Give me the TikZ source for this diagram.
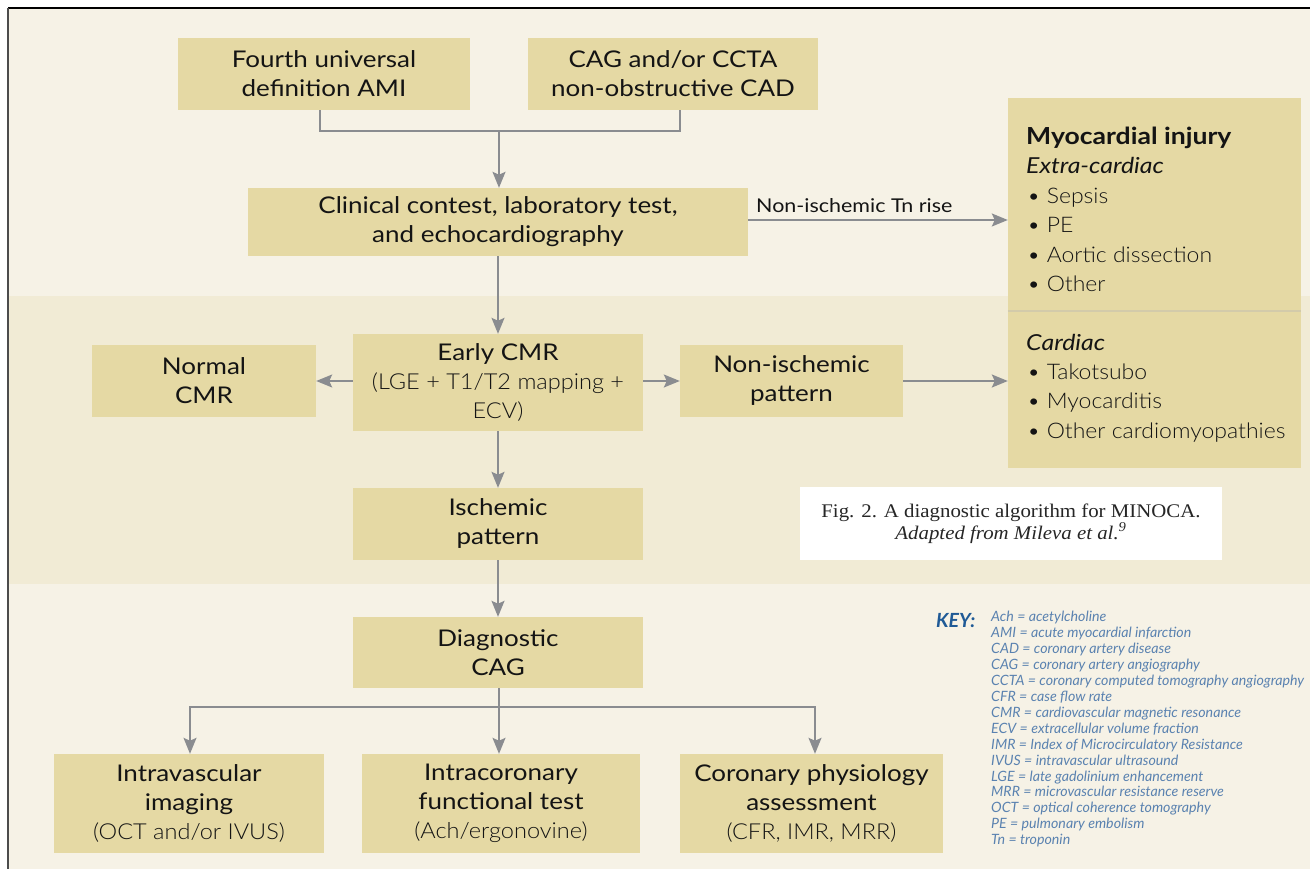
\documentclass[tikz,border=0pt]{standalone}
\usepackage{fontspec}
\setmainfont{Lato}[FakeStretch=1.13]
\newfontfamily\lightfont{Lato Light}[FakeStretch=1.07]
\newfontfamily\keyfont{Lato}
\newfontfamily\capfont{Liberation Serif}[FakeStretch=1.08]
\usetikzlibrary{arrows.meta,calc}
\definecolor{bgc}{HTML}{F6F2E6}
\definecolor{bandc}{HTML}{F1EBD5}
\definecolor{boxc}{HTML}{E5D9A4}
\definecolor{arrc}{HTML}{8A8C90}
\definecolor{keyb}{HTML}{1F5A96}
\definecolor{keyt}{HTML}{5A82B0}
\definecolor{divc}{HTML}{D3CBAA}
\newcommand{\subtxt}[1]{{\fontsize{22}{29}\lightfont #1}}
\begin{document}
\begin{tikzpicture}[x=1pt,y=-1pt,
 box/.style={fill=boxc, draw=none, align=center, inner sep=0pt, text=black!92,
   font=\fontsize{23}{29}\selectfont},
 arr/.style={draw=arrc, line width=1.8pt, -{Stealth[length=16pt,width=13pt,inset=3pt]}},
 ln/.style={draw=arrc, line width=1.8pt},
 rtxt/.style={anchor=base west, inner sep=0pt, text=black!92, font=\fontsize{22}{26}\selectfont},
 keytxt/.style={anchor=base west, inner sep=0pt, text=keyt, font=\fontsize{14.2}{16}\keyfont\itshape},
]
\useasboundingbox (0,0) rectangle (1310,869);
\fill[white] (0,0) rectangle (1310,869);
\fill[bgc] (8,8) rectangle (1310,869);
\fill[bandc] (8,296) rectangle (1310,584);
\draw[black, line width=1.5pt] (8,8) -- (1310,8);
\draw[black!70, line width=2pt] (8,8) -- (8,869);

% boxes
\node[box, minimum width=292pt, minimum height=72pt] (A) at (324,74) {Fourth universal\\definition AMI};
\node[box, minimum width=290pt, minimum height=72pt] (B) at (673,74) {CAG and/or CCTA\\non-obstructive CAD};
\node[box, minimum width=500pt, minimum height=68pt] (C) at (498,222) {Clinical contest, laboratory test,\\and echocardiography};
\node[box, minimum width=224pt, minimum height=72pt] (NC) at (204,381) {Normal\\CMR};
\node[box, minimum width=290pt, minimum height=97pt] (E) at (498,382.5) {Early CMR\\\subtxt{(LGE + T1/T2 mapping +}\\\subtxt{ECV)}};
\node[box, minimum width=223pt, minimum height=72pt] (NP) at (791.5,381) {Non-ischemic\\pattern};
\node[box, minimum width=290pt, minimum height=72pt] (IP) at (498,524) {Ischemic\\pattern};
\node[box, minimum width=290pt, minimum height=71pt] (D) at (498,652.5) {Diagnostic\\CAG};
\node[box, minimum width=270pt, minimum height=99pt] (I1) at (189,803.5) {Intravascular\\imaging\\\subtxt{(OCT and/or IVUS)}};
\node[box, minimum width=278pt, minimum height=99pt] (I2) at (501,803.5) {Intracoronary\\functional test\\\subtxt{(Ach/ergonovine)}};
\node[box, minimum width=263pt, minimum height=99pt] (I3) at (811.5,803.5) {Coronary physiology\\assessment\\\subtxt{(CFR, IMR, MRR)}};

% right box
\node[box, minimum width=293pt, minimum height=370pt] (R) at (1154.5,283) {};
\draw[divc, line width=1.2pt] (R.west |- 0,311) -- (R.east |- 0,311);
\node[rtxt, font=\fontsize{23.5}{26}\selectfont\bfseries] (r1) at (1026,145) {Myocardial injury};
\node[rtxt, font=\fontsize{22}{26}\selectfont\itshape] (r2) at (1026,173.3) {Extra-cardiac};
\node[rtxt, font=\fontsize{21.5}{26}\lightfont] (r3) at (1027,203.3) {\textbullet\ Sepsis};
\node[rtxt, font=\fontsize{21.5}{26}\lightfont] (r4) at (1027,232.3) {\textbullet\ PE};
\node[rtxt, font=\fontsize{21.5}{26}\lightfont] (r5) at (1027,262.3) {\textbullet\ Aortic dissection};
\node[rtxt, font=\fontsize{21.5}{26}\lightfont] (r6) at (1027,291.7) {\textbullet\ Other};
\node[rtxt, font=\fontsize{22}{26}\selectfont\itshape] (r7) at (1026,350) {Cardiac};
\node[rtxt, font=\fontsize{21.5}{26}\lightfont] (r8) at (1027,379.3) {\textbullet\ Takotsubo};
\node[rtxt, font=\fontsize{21.5}{26}\lightfont] (r9) at (1027,408.3) {\textbullet\ Myocarditis};
\node[rtxt, font=\fontsize{21.5}{26}\lightfont] (r10) at (1027,438.3) {\textbullet\ Other cardiomyopathies};

% caption
\node[fill=white, minimum width=422pt, minimum height=73pt, inner sep=0pt, align=center,
  font=\fontsize{19.3}{20}\capfont, text=black!85] (cap) at (1011,523.5)
  {Fig. 2. A diagnostic algorithm for MINOCA.\\\textit{Adapted from Mileva et al.\textsuperscript{9}}};

% key
\node[anchor=base west, inner sep=0pt, text=keyb, font=\fontsize{19.5}{20}\keyfont\bfseries\itshape] (key) at (936,627) {KEY:};
\foreach \t [count=\i from 0] in {Ach = acetylcholine, AMI = acute myocardial infarction, CAD = coronary artery disease, CAG = coronary artery angiography, CCTA = coronary computed tomography angiography, CFR = case flow rate, CMR = cardiovascular magnetic resonance, ECV = extracellular volume fraction, IMR = Index of Microcirculatory Resistance, IVUS = intravascular ultrasound, LGE = late gadolinium enhancement, MRR = microvascular resistance reserve, OCT = optical coherence tomography, PE = pulmonary embolism, Tn = troponin}
  \node[keytxt] (k\i) at (991,{621.5+15.95*\i}) {\t};

% connectors
\coordinate (j1) at (499,131);
\draw[ln] ([xshift=-4pt]A.south) |- (j1) -| ([xshift=7pt]B.south);
\draw[arr] (j1) -- (j1 |- C.north);
\draw[arr] ([yshift=2pt]C.east) -- ([yshift=2pt]C.east -| R.west);
\node[anchor=base west, inner sep=0pt, font=\fontsize{19}{22}\selectfont, text=black!92] (lbl) at (756,213) {Non-ischemic Tn rise};
\draw[arr] (C.south) -- (E.north);
\draw[arr] (E.west |- NC.east) -- (NC.east);
\draw[arr] (E.east |- NP.west) -- (NP.west);
\draw[arr] (NP.east) -- (NP.east -| R.west);
\draw[arr] (E.south) -- (IP.north);
\draw[arr] (IP.south) -- (D.north);
\coordinate (j2) at (499,707);
\draw[ln] (D.south -| j2) -- (j2);
\draw[arr] (j2) -| ([xshift=1pt]I1.north);
\draw[arr] (j2) -| ([xshift=3.5pt]I3.north);
\draw[arr] (j2) -- (j2 |- I2.north);
\end{tikzpicture}
\end{document}
